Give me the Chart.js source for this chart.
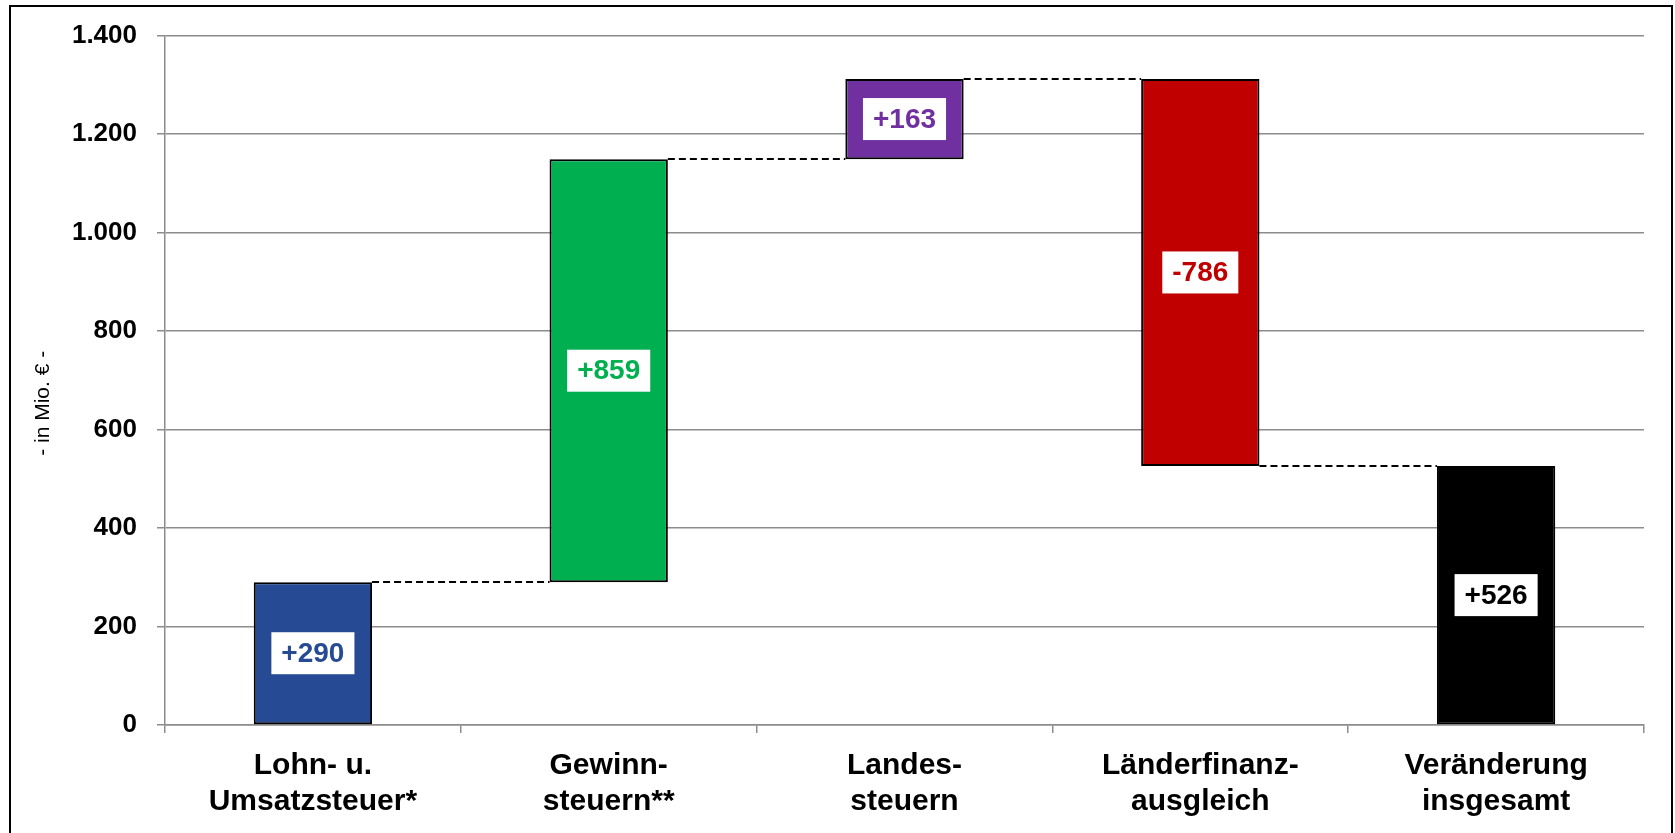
<!DOCTYPE html>
<html>
<head>
<meta charset="utf-8">
<script src="https://cdn.jsdelivr.net/npm/chart.js@4/dist/chart.umd.min.js"></script>
<style>
  html, body { margin: 0; padding: 0; background: #fff; }
  #wrap { width: 1675px; height: 833px; position: relative; }
</style>
</head>
<body>
<div id="wrap"><canvas id="grafico"></canvas></div>
<script>
const kategorien = [
  ["Lohn- u.", "Umsatzsteuer*"],
  ["Gewinn-", "steuern**"],
  ["Landes-", "steuern"],
  ["Länderfinanz-", "ausgleich"],
  ["Veränderung", "insgesamt"]
];
const veraenderungen = [290, 859, 163, -786, 526];
const istSumme = [false, false, false, false, true];
const farben = ["#264a93", "#00b050", "#7030a0", "#c00000", "#000000"];
const yTicks = [0, 200, 400, 600, 800, 1000, 1200, 1400];
const yTitel = "- in Mio. € -";

// Wasserfall: Start- und Endwerte aus den Veraenderungen
const balken = [];
const stand = [];
let summe = 0;
veraenderungen.forEach((wert, i) => {
  if (istSumme[i]) {
    balken.push([0, wert]);
    stand.push(wert);
  } else {
    balken.push([summe, summe + wert]);
    summe += wert;
    stand.push(summe);
  }
});

function formatZahl(v) {
  return v.toLocaleString("de-DE");
}

function formatLabel(v) {
  return (v > 0 ? "+" : "") + v;
}

const rahmen = {
  id: "rahmen",
  beforeDraw(chart) {
    const ctx = chart.ctx;
    ctx.save();
    ctx.fillStyle = "#fff";
    ctx.fillRect(0, 0, chart.width, chart.height);
    ctx.strokeStyle = "#000";
    ctx.lineWidth = 2;
    ctx.strokeRect(10, 6, chart.width - 13, chart.height + 10);
    ctx.restore();
  },
  afterDraw(chart) {
    // Achsentitel, etwas unterhalb der Mitte wie im Original
    const ctx = chart.ctx;
    const area = chart.chartArea;
    ctx.save();
    ctx.translate(43, (area.top + area.bottom) / 2 + 23);
    ctx.rotate(-Math.PI / 2);
    ctx.font = "21px 'Liberation Sans', Arial, sans-serif";
    ctx.fillStyle = "#000";
    ctx.textAlign = "center";
    ctx.textBaseline = "middle";
    ctx.fillText(yTitel, 0, 0);
    ctx.restore();
  }
};

const verbinder = {
  id: "verbinder",
  afterDatasetsDraw(chart) {
    const ctx = chart.ctx;
    const meta = chart.getDatasetMeta(0);
    const y = chart.scales.y;
    ctx.save();
    ctx.strokeStyle = "#000";
    ctx.lineWidth = 2;
    ctx.setLineDash([7, 4]);
    for (let i = 0; i < meta.data.length - 1; i++) {
      const a = meta.data[i];
      const b = meta.data[i + 1];
      const py = Math.round(y.getPixelForValue(stand[i]));
      ctx.beginPath();
      ctx.moveTo(a.x + a.width / 2, py);
      ctx.lineTo(b.x - b.width / 2, py);
      ctx.stroke();
    }
    ctx.restore();
  }
};

const wertLabels = {
  id: "wertLabels",
  afterDatasetsDraw(chart) {
    const ctx = chart.ctx;
    const meta = chart.getDatasetMeta(0);
    ctx.save();
    ctx.font = "bold 28px 'Liberation Sans', Arial, sans-serif";
    ctx.textAlign = "center";
    ctx.textBaseline = "middle";
    meta.data.forEach((bar, i) => {
      const text = formatLabel(veraenderungen[i]);
      const mitte = (bar.y + bar.base) / 2;
      const w = ctx.measureText(text).width + 20;
      const h = 42;
      ctx.fillStyle = "#fff";
      ctx.fillRect(bar.x - w / 2, mitte - h / 2, w, h);
      ctx.fillStyle = farben[i];
      ctx.fillText(text, bar.x, mitte + 1);
    });
    ctx.restore();
  }
};

const ctx = document.getElementById("grafico").getContext("2d");
const wasserfall = new Chart(ctx, {
  type: "bar",
  data: {
    labels: kategorien,
    datasets: [
      {
        data: balken,
        backgroundColor: farben,
        borderColor: "#000",
        borderWidth: 2,
        borderSkipped: false,
        barPercentage: 0.8,
        categoryPercentage: 0.5,
      },
    ],
  },
  options: {
    responsive: true,
    maintainAspectRatio: false,
    animation: false,
    layout: {
      padding: { top: 35, right: 31, bottom: 0, left: 0 },
    },
    plugins: {
      legend: { display: false },
      tooltip: { enabled: false },
    },
    scales: {
      x: {
        afterFit(scale) {
          scale.height = 108;
        },
        grid: {
          offset: true,
          drawOnChartArea: false,
          color: "#8c8c8c",
          lineWidth: 1.5,
          tickLength: 8,
        },
        border: { color: "#8c8c8c", width: 1.5 },
        ticks: {
          color: "#000",
          padding: 15,
          maxRotation: 0,
          font: { family: "'Liberation Sans', Arial, sans-serif", size: 30, weight: "bold", lineHeight: 1.2 },
        },
      },
      y: {
        min: 0,
        max: 1400,
        afterFit(scale) {
          scale.width = 165;
        },
        afterBuildTicks(scale) {
          scale.ticks = yTicks.map((v) => ({ value: v }));
        },
        grid: {
          color: "#8c8c8c",
          lineWidth: 1.5,
          tickLength: 8,
        },
        border: { color: "#8c8c8c", width: 1.5 },
        ticks: {
          color: "#000",
          padding: 20,
          callback: (v) => formatZahl(v),
          font: { family: "'Liberation Sans', Arial, sans-serif", size: 26, weight: "bold" },
        },
      },
    },
  },
  plugins: [rahmen, verbinder, wertLabels],
});
</script>
</body>
</html>
